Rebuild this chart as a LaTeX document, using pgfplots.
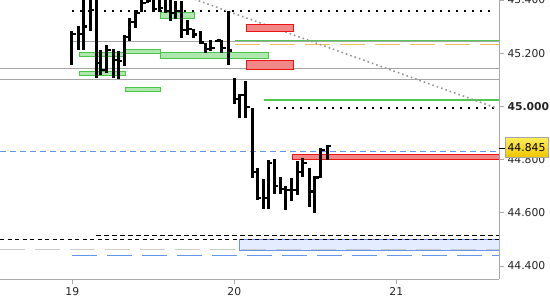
\documentclass[border=0pt]{standalone}
\usepackage{fontspec}
\setmainfont{DejaVu Sans}
\usepackage{pgfplots}
\pgfplotsset{compat=1.18}
\usepackage{pgfplotstable}
\definecolor{axgray}{RGB}{170,170,170}
\definecolor{lgray}{RGB}{165,165,165}
\definecolor{vlgray}{RGB}{205,205,205}
\definecolor{gline}{RGB}{80,200,80}
\definecolor{gfill}{RGB}{175,232,175}
\definecolor{gedge}{RGB}{70,200,70}
\definecolor{rfill}{RGB}{242,135,135}
\definecolor{redge}{RGB}{235,20,20}
\definecolor{bline}{RGB}{100,150,235}
\definecolor{bfill}{RGB}{228,236,255}
\definecolor{oline}{RGB}{240,190,90}
\pgfdeclareplotmark{closetick}{\pgfpathmoveto{\pgfpoint{0pt}{0pt}}\pgfpathlineto{\pgfpoint{4bp}{0pt}}\pgfusepathqstroke}
\pgfplotstableread{
x H L C
18.998 45.283 45.156 45.272
19.037 45.302 45.212 45.272
19.068 45.420 45.212 45.300
19.110 45.420 45.284 45.362
19.147 45.420 45.107 45.163
19.177 45.212 45.118 45.137
19.214 45.231 45.126 45.212
19.252 45.216 45.107 45.174
19.284 45.208 45.103 45.170
19.324 45.268 45.152 45.261
19.356 45.332 45.246 45.317
19.393 45.362 45.295 45.351
19.429 45.410 45.355 45.390
19.463 45.410 45.390 45.395
19.500 45.410 45.355 45.365
19.537 45.410 45.355 45.370
19.573 45.410 45.350 45.360
19.608 45.410 45.322 45.350
19.640 45.396 45.327 45.360
19.677 45.396 45.257 45.287
19.713 45.325 45.268 45.290
19.747 45.291 45.258 45.270
19.789 45.283 45.233 45.240
19.824 45.239 45.202 45.216
19.856 45.250 45.209 45.220
19.892 45.250 45.242 45.248
19.924 45.250 45.202 45.220
19.963 45.359 45.157 45.210
20.003 45.106 45.008 45.027
20.035 45.047 44.955 45.043
20.071 45.095 44.955 44.997
20.110 44.993 44.732 44.753
20.142 44.767 44.648 44.656
20.179 44.726 44.614 44.656
20.210 44.798 44.613 44.788
20.247 44.802 44.671 44.702
20.284 44.736 44.671 44.688
20.318 44.701 44.611 44.686
20.355 44.730 44.646 44.686
20.389 44.795 44.667 44.753
20.424 44.805 44.733 44.786
20.466 44.770 44.623 44.680
20.498 44.738 44.600 44.733
20.534 44.842 44.730 44.836
20.573 44.855 44.798 44.851
}\bars
\begin{document}
\begin{tikzpicture}
\useasboundingbox (0,0) rectangle (550bp,-300bp);
\begin{axis}[
  at={(0,0)}, anchor=north west,
  scale only axis, width=499bp, height=279bp,
  xmin=18.554, xmax=21.634, ymin=44.351, ymax=45.400,
  axis x line*=bottom, axis y line*=right,
  axis line style={-, draw=axgray, line width=0.8bp},
  xtick={19,20,21}, xticklabels={19,20,21},
  ytick={44.4,44.6,44.8,45.0,45.2,45.4},
  yticklabels={44.400,44.600,44.800,\textbf{45.000},45.200,45.400},
  tick align=outside, major tick length=5bp,
  tick style={axgray, line width=0.8bp},
  ticklabel style={font=\fontsize{10.8bp}{12bp}\selectfont, text=black!85},
  yticklabel style={anchor=west},
  clip=true,
]
% light and blue dashed lines
\addplot[vlgray, line width=1.3bp, dash pattern=on 25bp off 10bp] coordinates {(18.554,44.463) (21.634,44.463)};
\addplot[bline, line width=1bp, dash pattern=on 6bp off 4bp] coordinates {(18.554,44.832) (21.634,44.832)};
\addplot[bline, line width=1bp, dash pattern=on 25bp off 10bp] coordinates {(18.998,44.440) (21.634,44.440)};
% blue rectangle
\addplot[fill=bfill, draw=bline, line width=0.9bp] coordinates {(20.035,44.460) (21.64,44.460) (21.64,44.500) (20.035,44.500)} -- cycle;
\addplot[vlgray, line width=1.3bp, dash pattern=on 25bp off 10bp] coordinates {(20.04,44.463) (21.634,44.463)};
% black dashed
\addplot[black, line width=1bp, dash pattern=on 5bp off 3bp] coordinates {(19.147,44.515) (21.634,44.515)};
\addplot[black, line width=1bp, dash pattern=on 4bp off 3.5bp] coordinates {(18.554,44.498) (21.634,44.498)};
% gray solid lines
\addplot[lgray, line width=1bp] coordinates {(18.998,45.245) (21.634,45.245)};
\addplot[lgray, line width=1bp] coordinates {(18.554,45.143) (21.634,45.143)};
\addplot[lgray, line width=1bp] coordinates {(18.554,45.102) (21.634,45.102)};
% green and orange lines
\addplot[gline, line width=1.2bp] coordinates {(20.005,45.248) (21.634,45.248)};
\addplot[oline, line width=1bp, dash pattern=on 25bp off 10bp] coordinates {(20.005,45.231) (21.634,45.231)};
\addplot[gline, line width=1.2bp] coordinates {(20.184,45.024) (21.634,45.024)};
% dotted lines
\addplot[black, line width=2bp, dash pattern=on 2.5bp off 5.5bp] coordinates {(18.998,45.359) (21.610,45.359)};
\addplot[black, line width=2bp, dash pattern=on 2.5bp off 5.5bp] coordinates {(20.208,44.995) (21.610,44.995)};
\addplot[gray!80, line width=1.6bp, dash pattern=on 1.6bp off 3bp] coordinates {(19.727,45.409) (21.622,44.993)};
% red rectangles
\addplot[fill=rfill, draw=redge, line width=1bp] coordinates {(20.073,45.281) (20.363,45.281) (20.363,45.309) (20.073,45.309)} -- cycle;
\addplot[fill=rfill, draw=redge, line width=1bp] coordinates {(20.073,45.138) (20.363,45.138) (20.363,45.173) (20.073,45.173)} -- cycle;
\addplot[fill=rfill, draw=redge, line width=1bp] coordinates {(20.357,44.801) (21.64,44.801) (21.64,44.820) (20.357,44.820)} -- cycle;
% green rectangles
\addplot[fill=gfill, draw=gedge, line width=1bp] coordinates {(19.542,45.330) (19.752,45.330) (19.752,45.352) (19.542,45.352)} -- cycle;
\addplot[fill=gfill, draw=gedge, line width=1bp] coordinates {(19.042,45.187) (19.330,45.187) (19.330,45.203) (19.042,45.203)} -- cycle;
\addplot[fill=gfill, draw=gedge, line width=1bp] coordinates {(19.326,45.200) (19.546,45.200) (19.546,45.215) (19.326,45.215)} -- cycle;
\addplot[fill=gfill, draw=gedge, line width=1bp] coordinates {(19.542,45.179) (20.214,45.179) (20.214,45.203) (19.542,45.203)} -- cycle;
\addplot[fill=gfill, draw=gedge, line width=1bp] coordinates {(19.042,45.115) (19.330,45.115) (19.330,45.133) (19.042,45.133)} -- cycle;
\addplot[fill=gfill, draw=gedge, line width=1bp] coordinates {(19.326,45.055) (19.546,45.055) (19.546,45.070) (19.326,45.070)} -- cycle;
% OHLC bars
\addplot[only marks, mark=closetick, mark options={black, line width=2.2bp},
  error bars/.cd, y dir=both, y explicit,
  error mark=none, error bar style={black, line width=3bp}]
  table[x=x, y=C, y error plus expr={\thisrow{H}-\thisrow{C}}, y error minus expr={\thisrow{C}-\thisrow{L}}] {\bars};
\end{axis}
% current price marker
\draw[black, line width=1bp] (499bp,-148bp) -- (506bp,-148bp);
\node[draw=gray!70, line width=0.8bp, top color={rgb,255:red,255;green,238;blue,90}, bottom color={rgb,255:red,240;green,196;blue,0}, inner sep=0pt, minimum width=43bp, minimum height=20bp, font=\fontsize{10.8bp}{12bp}\selectfont] at (526.5bp,-147.5bp) {44.845};
\end{tikzpicture}
\end{document}
